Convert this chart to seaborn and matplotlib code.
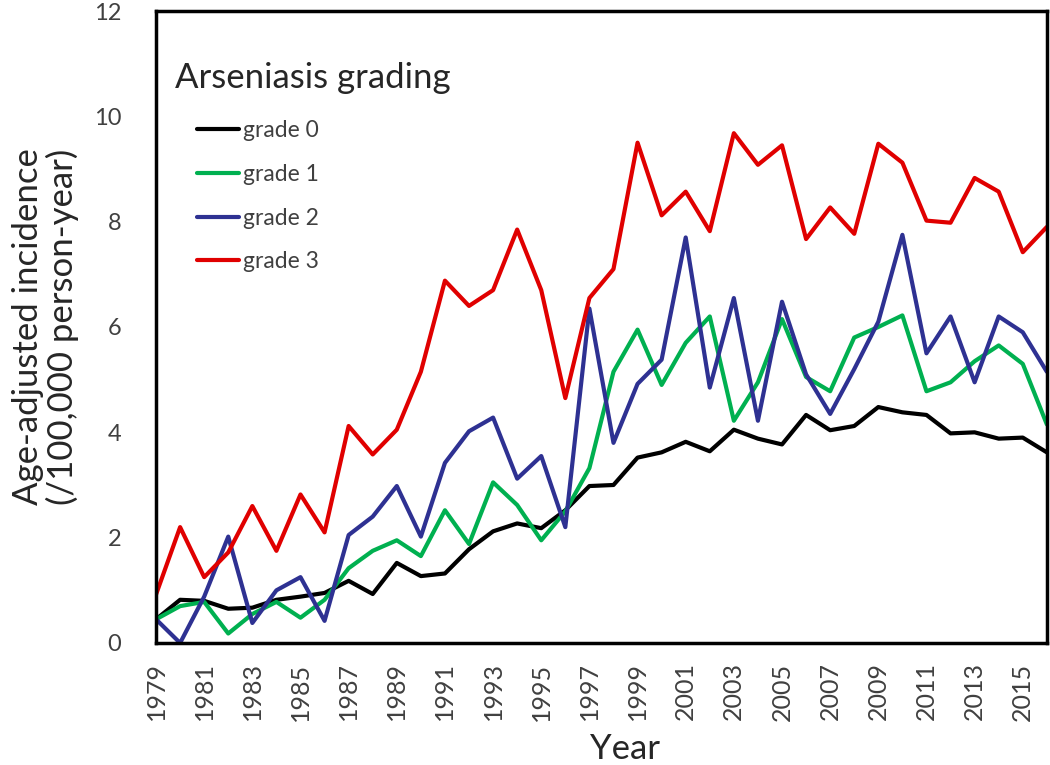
import numpy as np
import pandas as pd
import matplotlib
matplotlib.use("Agg")
import matplotlib.pyplot as plt
import seaborn as sns

# ── Data ──────────────────────────────────────────────────────────
years = list(range(1979, 2017))

grade0 = [0.45, 0.82, 0.80, 0.65, 0.67, 0.82, 0.88, 0.95, 1.18, 0.93,
          1.52, 1.27, 1.32, 1.78, 2.12, 2.27, 2.18, 2.52, 2.98, 3.00,
          3.52, 3.62, 3.82, 3.64, 4.05, 3.88, 3.77, 4.33, 4.04, 4.12,
          4.48, 4.38, 4.33, 3.98, 4.00, 3.88, 3.90, 3.62]
grade1 = [0.45, 0.70, 0.78, 0.18, 0.55, 0.78, 0.48, 0.82, 1.42, 1.75,
          1.95, 1.65, 2.52, 1.88, 3.05, 2.62, 1.95, 2.50, 3.32, 5.15,
          5.95, 4.90, 5.70, 6.20, 4.22, 4.95, 6.15, 5.05, 4.78, 5.80,
          6.00, 6.22, 4.78, 4.95, 5.35, 5.65, 5.30, 4.15]
grade2 = [0.45, 0.00, 0.88, 2.02, 0.38, 1.00, 1.25, 0.42, 2.05, 2.40,
          2.98, 2.02, 3.42, 4.02, 4.28, 3.12, 3.55, 2.20, 6.35, 3.80,
          4.92, 5.38, 7.70, 4.85, 6.55, 4.22, 6.48, 5.10, 4.35, 5.20,
          6.10, 7.75, 5.50, 6.20, 4.95, 6.20, 5.90, 5.15]
grade3 = [0.92, 2.20, 1.25, 1.72, 2.60, 1.75, 2.82, 2.10, 4.12, 3.58,
          4.05, 5.15, 6.88, 6.40, 6.70, 7.85, 6.70, 4.65, 6.55, 7.10,
          9.50, 8.12, 8.57, 7.82, 9.68, 9.08, 9.45, 7.67, 8.27, 7.77,
          9.48, 9.12, 8.02, 7.98, 8.83, 8.57, 7.42, 7.90]

grade_names = ["grade 0", "grade 1", "grade 2", "grade 3"]
grade_colors = ["#000000", "#00B050", "#2E3192", "#E00000"]

df = pd.DataFrame({
    "Year": years * 4,
    "incidence": grade0 + grade1 + grade2 + grade3,
    "grade": [g for g in grade_names for _ in years],
})

# ── Plot ──────────────────────────────────────────────────────────
sns.set_style("white")
plt.rcParams["font.family"] = ["Lato", "DejaVu Sans"]

fig = plt.figure(figsize=(10.5, 7.65), dpi=100)
ax = fig.add_axes([0.1486, 0.1595, 0.8484, 0.8261])

sns.lineplot(data=df, x="Year", y="incidence", hue="grade",
             palette=dict(zip(grade_names, grade_colors)),
             linewidth=3, ax=ax, legend=True)

ax.set_xlim(1979, 2016)
ax.set_ylim(0, 12)
ax.set_xticks(years)
ax.set_xticklabels([str(y) if (y - 1979) % 2 == 0 else "" for y in years],
                   rotation=90)
ax.set_yticks(range(0, 13, 2))
ax.tick_params(axis="x", direction="out", length=6, width=1.5,
               colors="black", labelcolor="#404040", labelsize=18, pad=8)
ax.tick_params(axis="y", length=0, labelcolor="#404040", labelsize=17, pad=25)

for s in ax.spines.values():
    s.set_color("black")
    s.set_linewidth(2.5)

ax.set_xlabel("Year", fontsize=25)
ax.xaxis.set_label_coords(0.527, -0.143)
ax.set_ylabel("Age-adjusted incidence\n(/100,000 person-year)",
              fontsize=25, linespacing=1.05)
ax.yaxis.set_label_coords(-0.087, 0.5)

ax.text(0.021, 0.878, "Arseniasis grading", transform=ax.transAxes,
        fontsize=25, va="baseline", ha="left")
leg = ax.legend(loc="upper left", bbox_to_anchor=(0.046, 0.828), frameon=False,
                fontsize=16.5, handlelength=1.85, handletextpad=0.15,
                labelspacing=1.0, borderaxespad=0, borderpad=0,
                labelcolor="#404040")

fig.savefig("out.png", dpi=100)
